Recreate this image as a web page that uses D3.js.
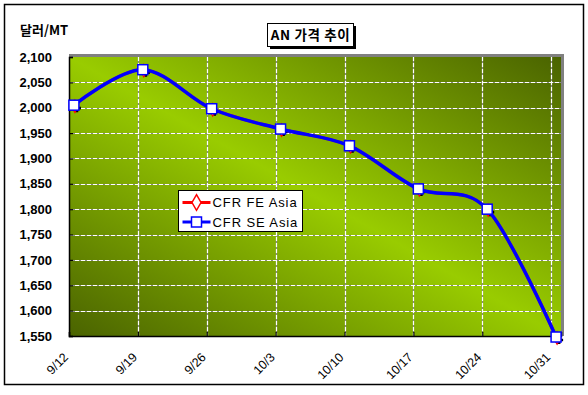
<!DOCTYPE html>
<html>
<head>
<meta charset="utf-8">
<script src="https://cdn.jsdelivr.net/npm/d3@7"></script>
<style>
  html, body { margin: 0; padding: 0; background: #fff; }
  svg { display: block; font-family: "Liberation Sans", Arial, sans-serif; }
</style>
</head>
<body>
<svg id="chart" width="588" height="395"></svg>
<script>
// weekly dates and prices (USD/MT)
const dates = ["9/12", "9/19", "9/26", "10/3", "10/10", "10/17", "10/24", "10/31"];
const feAsia = [2005, 2075, 1998, 1958, 1925, 1840, 1800, 1548];
const seAsia = [2005, 2075, 1998, 1958, 1925, 1840, 1800, 1548];
const yTicks = [1550, 1600, 1650, 1700, 1750, 1800, 1850, 1900, 1950, 2000, 2050, 2100];
const seriesNames = ["CFR FE Asia", "CFR SE Asia"];
const title = "AN 가격 추이";
const yUnit = "달러/MT";

const parse = d3.timeParse("%m/%d");
const days = dates.map(parse);
const svg = d3.select("#chart");

const plot = { left: 69, right: 561, top: 57, bottom: 336 };

// excel-style date axis: each day is a band, points sit in the middle of the day
const x = d3.scaleTime()
  .domain([days[0], d3.timeDay.offset(days[days.length - 1], 1)])
  .range([plot.left, plot.right]);
const mid = (d) => x(d3.timeHour.offset(d, 12));
const y = d3.scaleLinear().domain([1550, 2100]).range([plot.bottom, plot.top]);

// outer frame
svg.append("rect").attr("x", 4.5).attr("y", 4.5).attr("width", 579).attr("height", 380)
  .attr("fill", "#fff").attr("stroke", "#000").attr("stroke-width", 1.5);

// plot background gradient
const grad = svg.append("defs").append("linearGradient").attr("id", "bg")
  .attr("x1", 0).attr("y1", 1).attr("x2", 1).attr("y2", 0);
grad.append("stop").attr("offset", 0).attr("stop-color", "#4a6300");
grad.append("stop").attr("offset", 0.5).attr("stop-color", "#99cc00");
grad.append("stop").attr("offset", 1).attr("stop-color", "#4a6300");

// gray shadow border top/right
svg.append("path")
  .attr("d", `M${plot.left},${plot.top - 1.5}H${plot.right + 1.5}V${plot.bottom}`)
  .attr("fill", "none").attr("stroke", "#808080").attr("stroke-width", 3);

svg.append("rect").attr("x", plot.left).attr("y", plot.top)
  .attr("width", plot.right - plot.left).attr("height", plot.bottom - plot.top)
  .attr("fill", "url(#bg)");

// grid lines: gray under white dashes
const grid = svg.append("g");
const hY = yTicks.slice(1, -1);
for (const [stroke, dash] of [["#8a8a8a", null], ["#fff", "4,2"]]) {
  grid.selectAll(null).data(hY).join("line")
    .attr("x1", plot.left).attr("x2", plot.right)
    .attr("y1", (d) => Math.round(y(d)) + 0.5).attr("y2", (d) => Math.round(y(d)) + 0.5)
    .attr("stroke", stroke).attr("stroke-width", 1.2).attr("stroke-dasharray", dash);
  grid.selectAll(null).data(days.slice(1)).join("line")
    .attr("x1", (d) => Math.round(x(d)) + 0.5).attr("x2", (d) => Math.round(x(d)) + 0.5)
    .attr("y1", plot.top).attr("y2", plot.bottom)
    .attr("stroke", stroke).attr("stroke-width", 1.2).attr("stroke-dasharray", dash);
}

// axes
const yAxis = svg.append("g").attr("transform", `translate(${plot.left},0)`)
  .call(d3.axisRight(y).tickValues(yTicks).tickSize(4).tickFormat(""));
yAxis.select(".domain").attr("stroke", "#000").attr("stroke-width", 1.5);
yAxis.selectAll(".tick line").attr("stroke", "#000").attr("stroke-width", 1.2);

const xAxis = svg.append("g").attr("transform", `translate(0,${plot.bottom})`)
  .call(d3.axisTop(x).tickValues(days).tickSize(4).tickFormat(""));
xAxis.select(".domain").attr("stroke", "#000").attr("stroke-width", 1.5);
xAxis.selectAll(".tick line").attr("stroke", "#000").attr("stroke-width", 1.2);

// y labels
svg.append("g").selectAll("text").data(yTicks).join("text")
  .attr("x", 52).attr("y", (d) => y(d)).attr("dy", "0.36em")
  .attr("text-anchor", "end").attr("font-size", 13).attr("font-weight", "bold")
  .text(d3.format(","));

// x labels, rotated
svg.append("g").selectAll("text").data(days).join("text")
  .attr("transform", (d) => `translate(${x(d)},${plot.bottom + 22}) rotate(-45)`)
  .attr("text-anchor", "end").attr("font-size", 12.5)
  .text((d, i) => dates[i]);

// unit label
svg.append("text").attr("x", 20).attr("y", 35)
  .attr("font-size", 13).attr("font-weight", "bold").attr("font-family", "'Noto Sans CJK KR', sans-serif")
  .text(yUnit);

// title box with shadow
const tb = svg.append("g");
tb.append("rect").attr("x", 270).attr("y", 26).attr("width", 86).attr("height", 23).attr("fill", "#000");
tb.append("rect").attr("x", 267.5).attr("y", 23.5).attr("width", 86).attr("height", 23)
  .attr("fill", "#fff").attr("stroke", "#000").attr("stroke-width", 1);
tb.append("text").attr("x", 310.5).attr("y", 40).attr("text-anchor", "middle")
  .attr("font-size", 13.5).attr("font-weight", "bold").attr("letter-spacing", 0.6)
  .attr("font-family", "'Noto Sans CJK KR', sans-serif")
  .text(title);

// series (uniform catmull-rom, like excel's smoothed line)
const line = d3.line().x((d, i) => mid(days[i])).y((d) => y(d)).curve(d3.curveCatmullRom.alpha(0));
const diamond = d3.symbol().type(d3.symbolDiamond).size(70);

svg.append("path").datum(feAsia).attr("d", line).attr("fill", "none")
  .attr("stroke", "#ff0000").attr("stroke-width", 3);

// marker shadows
svg.append("g").selectAll("path").data(seAsia).join("path")
  .attr("transform", (d, i) => `translate(${mid(days[i]) + 3},${y(d) + 3})`)
  .attr("d", d3.symbol().type(d3.symbolCross).size(36)).attr("fill", "#000");
svg.append("g").selectAll("path").data(feAsia).join("path")
  .attr("transform", (d, i) => `translate(${mid(days[i]) + 1},${y(d) + 1})`)
  .attr("d", d3.symbol().type(d3.symbolDiamond).size(45))
  .attr("fill", "#fff").attr("stroke", "#ff0000").attr("stroke-width", 1.2);

svg.append("path").datum(seAsia).attr("d", line).attr("fill", "none")
  .attr("stroke", "#0000ff").attr("stroke-width", 3.5);
svg.append("g").selectAll("rect").data(seAsia).join("rect")
  .attr("x", (d, i) => mid(days[i]) - 5).attr("y", (d) => y(d) - 5)
  .attr("width", 10).attr("height", 10)
  .attr("fill", "#fff").attr("stroke", "#0000ff").attr("stroke-width", 1.5);

// legend
const lg = svg.append("g").attr("transform", "translate(178.5,190.5)");
lg.append("rect").attr("width", 124).attr("height", 41).attr("fill", "#fff").attr("stroke", "#000");
const colors = ["#ff0000", "#0000ff"];
seriesNames.forEach((name, i) => {
  const row = lg.append("g").attr("transform", `translate(0,${12 + i * 19.5})`);
  row.append("line").attr("x1", 4).attr("x2", 32).attr("stroke", colors[i]).attr("stroke-width", 3);
  if (i === 0) {
    row.append("path").attr("transform", "translate(18,0)").attr("d", diamond)
      .attr("fill", "#fff").attr("stroke", colors[i]).attr("stroke-width", 1.5);
  } else {
    row.append("rect").attr("x", 13).attr("y", -5).attr("width", 10).attr("height", 10)
      .attr("fill", "#fff").attr("stroke", colors[i]).attr("stroke-width", 1.5);
  }
  row.append("text").attr("x", 34).attr("dy", "0.36em").attr("font-size", 13)
    .attr("letter-spacing", 0.9).text(name);
});
</script>
</body>
</html>
